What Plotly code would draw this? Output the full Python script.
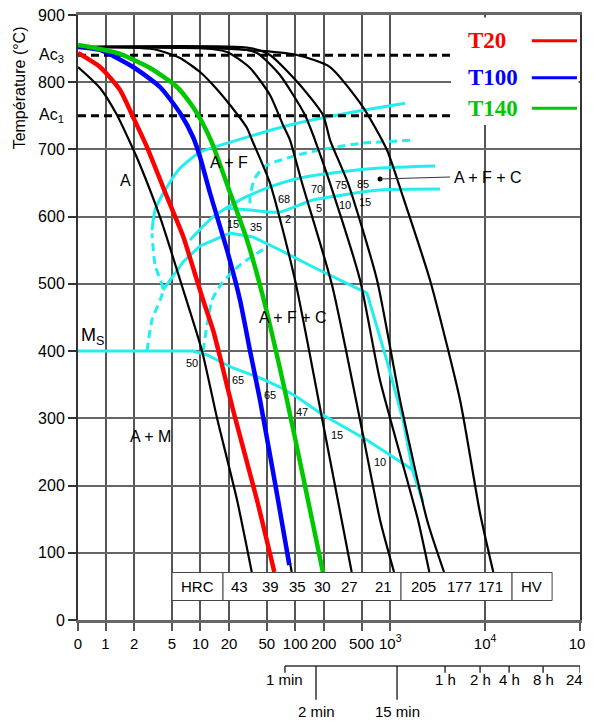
import numpy as np
import plotly.graph_objects as go

# ---------------- axes ----------------
x_tick_logt = [-0.29, 0, 0.301, 0.699, 1, 1.301, 1.699, 2, 2.301, 2.699, 3, 4, 5]
x_tick_text = ["0", "1", "2", "5", "10", "20", "50", "100", "200", "500",
               "10<sup>3</sup>", "10<sup>4</sup>", "10<sup>5</sup>"]
y_tick_vals = list(range(0, 901, 100))

# secondary time scale (positions, log10 s)
time_labels = ["1 min", "2 min", "15 min", "1 h", "2 h", "4 h", "8 h", "24 h"]
time_logt = [1.891, 2.218, 3.072, 3.578, 3.947, 4.253, 4.611, 5.0]
time_long = [False, True, True, False, False, False, False, False]

# critical temperatures
ac3_temp = 840
ac1_temp = 750

# ---------------- cooling curves (log10 s, °C) ----------------
b1_logt = [-0.29, -0.058, 0.121, 0.290, 0.342, 0.574, 0.796, 1.017, 1.175, 1.386, 1.541]
b1_temp = [822.6, 791.4, 751.2, 700.7, 684.3, 599.6, 501.3, 400.2, 300.5, 178.5, 71.4]

b2_logt = [1.417, 1.523, 1.628, 1.818, 1.962]
b2_temp = [476.0, 400.2, 327.3, 178.5, 71.4]

b3_logt = [-0.29, 0.363, 0.543, 0.785, 0.996, 1.133, 1.312, 1.491, 1.544, 1.733, 1.997, 2.281, 2.594]
b3_temp = [852.4, 850.9, 848.0, 836.0, 815.2, 795.9, 766.1, 731.9, 714.0, 650.0, 505.8, 300.5, 71.4]

b4_logt = [-0.29, 0.996, 1.280, 1.523, 1.733, 1.870, 1.944, 2.071, 2.387, 2.682, 2.893, 3.040]
b4_temp = [852.4, 850.9, 845.0, 821.2, 781.0, 736.4, 714.0, 650.0, 498.3, 297.5, 148.8, 71.4]

b5_logt = [-0.29, 1.312, 1.596, 1.838, 2.102, 2.207, 2.365, 2.682, 2.892, 3.293, 3.412]
b5_temp = [852.4, 850.9, 843.5, 810.8, 751.2, 714.0, 650.0, 505.8, 357.0, 148.8, 71.4]

b6_logt = [-0.29, 1.523, 1.733, 2.049, 2.292, 2.366, 2.555, 2.861, 3.103, 3.388, 3.567]
b6_temp = [852.4, 850.9, 840.5, 795.9, 751.2, 714.0, 650.0, 505.8, 327.3, 148.8, 71.4]

b7_logt = [-0.29, 1.312, 2.018, 2.366, 2.713, 2.966, 3.135, 3.419, 3.736, 3.946, 4.086]
b7_temp = [852.4, 849.4, 840.5, 822.6, 763.1, 699.2, 629.3, 505.8, 327.3, 159.2, 71.4]

t20_logt = [-0.29, -0.058, 0.153, 0.290, 0.437, 0.648, 0.817, 0.933, 1.028, 1.133, 1.207, 1.344, 1.596, 1.779]
t20_temp = [843.5, 822.6, 788.4, 748.3, 703.6, 629.3, 571.2, 519.2, 476.0, 431.4, 391.2, 312.4, 178.5, 71.4]

t100_logt = [-0.29, -0.058, 0.290, 0.574, 0.785, 0.922, 0.996, 1.101, 1.280, 1.417, 1.523, 1.628, 1.818, 1.937]
t100_temp = [852.4, 848.0, 822.6, 792.9, 754.2, 718.5, 688.8, 635.2, 550.4, 476.0, 400.2, 327.3, 178.5, 81.8]

t140_logt = [-0.29, 0.121, 0.469, 0.753, 0.922, 1.017, 1.123, 1.302, 1.491, 1.660, 1.912, 2.133, 2.291]
t140_temp = [855.4, 843.5, 821.2, 792.9, 763.1, 740.8, 709.5, 639.7, 565.3, 480.5, 327.3, 178.5, 71.4]

# ---------------- transformation lines (log10 s, °C) ----------------
ms_logt = [-0.29, 0.922, 1.070, 1.344, 1.628, 1.838, 2.018, 2.292, 2.755, 3.240]
ms_temp = [400.2, 400.2, 394.2, 374.9, 360.0, 346.6, 331.7, 305.0, 267.8, 223.1]

fs_logt = [0.490, 0.522, 0.627, 0.785, 0.996, 1.312, 2.018, 2.713, 3.156]
fs_temp = [580.0, 609.5, 639.2, 672.0, 695.8, 710.6, 738.9, 758.2, 768.6]

fs_dash_logt = [0.437, 0.490, 0.606, 0.522, 0.490]
fs_dash_temp = [400.2, 446.3, 490.9, 528.1, 575.0]

pe_logt = [0.606, 0.817, 0.996, 1.312, 1.554, 1.838, 2.187, 2.755, 2.966, 3.135, 3.240, 3.346]
pe_temp = [490.9, 532.6, 556.4, 575.7, 569.8, 550.4, 525.1, 486.4, 385.2, 297.5, 220.2, 175.6]

bs_dash_logt = [1.028, 1.070, 1.123, 1.228, 1.417, 1.702]
bs_dash_temp = [400.2, 438.9, 476.0, 501.3, 528.1, 554.9]

ps_dash_logt = [1.523, 1.523, 1.575, 1.680, 2.018, 2.365, 2.713, 3.261]
ps_dash_temp = [619.8, 632.0, 657.3, 675.2, 691.5, 702.0, 709.4, 713.9]

pa_logt = [0.890, 1.133, 1.417, 1.733, 2.049, 2.471, 2.893, 3.472]
pa_temp = [565.3, 599.6, 624.9, 644.2, 657.6, 666.5, 672.4, 675.4]

pb_logt = [1.259, 1.523, 1.838, 2.187, 2.893, 3.525]
pb_temp = [612.9, 609.9, 606.9, 624.8, 639.6, 641.1]

# ---------------- labels ----------------
region_text = ["A", "A + F", "A + F + C", "A + F + C", "A + M"]
region_logt = [0.207, 1.301, 4.031, 1.976, 0.469]
region_temp = [654.5, 681.3, 659.0, 449.3, 273.7]

num_text = ["50", "65", "65", "47", "15", "10", "15", "35", "68", "2", "70", "5", "75", "10", "85", "15"]
num_logt = [0.912, 1.396, 1.733, 2.071, 2.439, 2.893, 1.344, 1.586, 1.881, 1.923, 2.229, 2.250, 2.482, 2.524, 2.713, 2.734]
num_temp = [382.3, 357.0, 334.7, 309.4, 275.2, 235.0, 589.1, 584.6, 626.3, 596.5, 641.2, 612.9, 647.1, 617.4, 648.6, 621.8]

# hardness table
hard_text = ["HRC", "43", "39", "35", "30", "27", "21", "205", "177", "171", "HV"]
hard_logt = [0.967, 1.417, 1.741, 2.021, 2.285, 2.569, 2.927, 3.356, 3.725, 4.059, 4.491]
table_edges = [0.701, 1.238, 3.114, 4.284, 4.706]
table_temp = [29.0, 70.7]

legend_names = ["T20", "T100", "T140"]
legend_colors = ["#ff0000", "#0000ff", "#00c800"]

# ---------------- figure ----------------
fig = go.Figure()


def add_line(x, y, color, width, dash=None, shape="spline", smoothing=0.6):
    fig.add_trace(go.Scatter(
        x=x, y=y, mode="lines",
        line=dict(color=color, width=width, dash=dash, shape=shape,
                  smoothing=smoothing if shape == "spline" else None),
        hoverinfo="skip", showlegend=False))


CY = "#22eef0"
DASH = "8px,5px"
# transformation lines
add_line(fs_logt, fs_temp, CY, 3)
add_line(fs_dash_logt, fs_dash_temp, CY, 3, dash=DASH)
add_line(pe_logt, pe_temp, CY, 3, shape="linear")
add_line(bs_dash_logt, bs_dash_temp, CY, 3, dash=DASH)
add_line(ps_dash_logt, ps_dash_temp, CY, 3, dash=DASH)
add_line(pa_logt, pa_temp, CY, 3)
add_line(pb_logt, pb_temp, CY, 3)
add_line(ms_logt, ms_temp, CY, 3, shape="linear")

# Ac lines
for v in (ac3_temp, ac1_temp):
    add_line([-0.29, 3.63], [v, v], "black", 3, dash=DASH, shape="linear")

# black cooling curves
for lx, ly in [(b1_logt, b1_temp), (b2_logt, b2_temp), (b3_logt, b3_temp), (b4_logt, b4_temp),
               (b5_logt, b5_temp), (b6_logt, b6_temp), (b7_logt, b7_temp)]:
    add_line(lx, ly, "black", 2.2)

# coloured curves
add_line(t20_logt, t20_temp, legend_colors[0], 4.5)
add_line(t100_logt, t100_temp, legend_colors[1], 4.5)
add_line(t140_logt, t140_temp, legend_colors[2], 4.5)

# leader dot
fig.add_trace(go.Scatter(x=[2.893], y=[656.0], mode="markers",
                         marker=dict(color="black", size=5), hoverinfo="skip", showlegend=False))

shapes = []
annotations = []
FONT = "Liberation Sans, Arial, sans-serif"

# leader line
shapes.append(dict(type="line", xref="x", yref="y", x0=2.893, y0=656.0, x1=3.63, y1=659.0,
                   line=dict(color="#333", width=1.2)))

# legend box
shapes.append(dict(type="rect", xref="paper", yref="paper", x0=0.743, x1=0.997, y0=0.818, y1=0.996,
                   fillcolor="white", line=dict(width=0), layer="above"))
leg_y = [0.9575, 0.8964, 0.8457]
for name, col, yy in zip(legend_names, legend_colors, leg_y):
    shapes.append(dict(type="line", xref="paper", yref="paper", x0=0.904, x1=0.994, y0=yy, y1=yy,
                       line=dict(color=col, width=3), layer="above"))
    annotations.append(dict(xref="paper", yref="paper", x=0.772, y=yy, text="<b>%s</b>" % name,
                            showarrow=False, xanchor="left", yanchor="middle",
                            font=dict(family="Liberation Serif, Times New Roman, serif", size=23, color=col)))

# hardness table
for i in range(len(table_edges) - 1):
    shapes.append(dict(type="rect", xref="x", yref="y", x0=table_edges[i], x1=table_edges[i + 1],
                       y0=table_temp[0], y1=table_temp[1], fillcolor="white",
                       line=dict(color="#444", width=1), layer="above"))
for txt, lx in zip(hard_text, hard_logt):
    annotations.append(dict(xref="x", yref="y", x=lx, y=sum(table_temp) / 2, text=txt, showarrow=False,
                            xanchor="center", yanchor="middle",
                            font=dict(family=FONT, size=15, color="black")))

# region labels
for txt, lx, ly in zip(region_text, region_logt, region_temp):
    annotations.append(dict(xref="x", yref="y", x=lx, y=ly, text=txt, showarrow=False,
                            xanchor="center", yanchor="middle",
                            font=dict(family=FONT, size=16, color="black")))
annotations.append(dict(xref="x", yref="y", x=-0.142, y=421, text="M<sub>S</sub>", showarrow=False,
                        xanchor="center", yanchor="middle",
                        font=dict(family=FONT, size=18, color="black")))
for txt, lx, ly in zip(num_text, num_logt, num_temp):
    annotations.append(dict(xref="x", yref="y", x=lx, y=ly, text=txt, showarrow=False,
                            xanchor="center", yanchor="middle",
                            font=dict(family=FONT, size=11, color="black")))

# Ac labels
for lab, v in (("Ac<sub>3</sub>", ac3_temp), ("Ac<sub>1</sub>", ac1_temp)):
    annotations.append(dict(xref="paper", yref="y", x=-0.024, y=v, text=lab, showarrow=False,
                            xanchor="right", yanchor="middle", font=dict(family=FONT, size=16, color="black")))

# y title
annotations.append(dict(xref="paper", yref="paper", x=-0.116, y=0.88, text="Température (°C)",
                        textangle=-90, showarrow=False, xanchor="center", yanchor="middle",
                        font=dict(family=FONT, size=16, color="black")))

# secondary time scale
y_line = -0.076
shapes.append(dict(type="line", xref="x", yref="paper", x0=time_logt[0], x1=time_logt[-1],
                   y0=y_line, y1=y_line, line=dict(color="#333", width=1.5)))
for lab, lx, lg in zip(time_labels, time_logt, time_long):
    y_end = -0.132 if lg else -0.087
    shapes.append(dict(type="line", xref="x", yref="paper", x0=lx, x1=lx, y0=y_line, y1=y_end,
                       line=dict(color="#333", width=1.5)))
    annotations.append(dict(xref="x", yref="paper", x=lx, y=(-0.151 if lg else -0.099), text=lab,
                            showarrow=False, xanchor="center", yanchor="middle",
                            font=dict(family=FONT, size=15, color="black")))

# the page body has an 8 px margin, so the figure is 8 px smaller than the window
fig.update_layout(
    width=585, height=715,
    margin=dict(l=70, r=13, t=7, b=103, autoexpand=False),
    plot_bgcolor="white", paper_bgcolor="white",
    showlegend=False,
    shapes=shapes, annotations=annotations,
    xaxis=dict(range=[-0.29, 5], tickvals=x_tick_logt, ticktext=x_tick_text, automargin=False,
               ticklabeloverflow="allow",
               showgrid=True, gridcolor="#555", gridwidth=1.5, zeroline=False,
               showline=True, linecolor="#666", linewidth=2.5, mirror=True,
               ticks="outside", ticklen=8, tickcolor="#555", tickwidth=1.5,
               tickfont=dict(family=FONT, size=15, color="black")),
    yaxis=dict(range=[0, 900], tickvals=y_tick_vals, automargin=False,
               ticklabeloverflow="allow",
               showgrid=True, gridcolor="#666", gridwidth=2, zeroline=False,
               showline=True, linecolor="#333", linewidth=2, mirror=True,
               ticks="outside", ticklen=8, tickcolor="#333", tickwidth=1.5,
               tickfont=dict(family=FONT, size=16, color="black")),
)

fig.write_html("out.html")
